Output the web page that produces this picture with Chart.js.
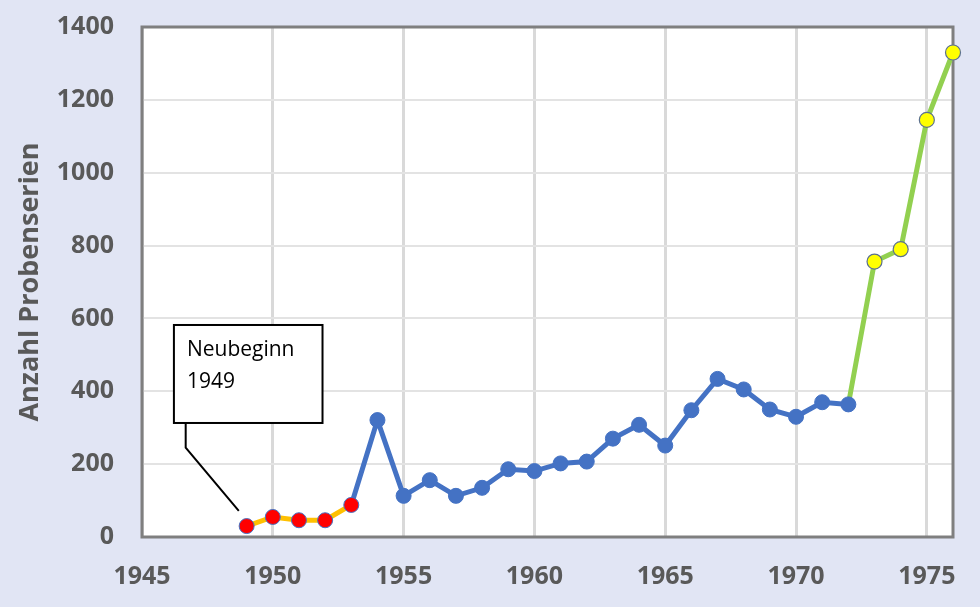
<!DOCTYPE html>
<html lang="de">
<head>
  <meta charset="UTF-8">
  <title>Anzahl Probenserien</title>
  <script src="https://cdn.jsdelivr.net/npm/chart.js"></script>
  <style>
    html, body { margin: 0; padding: 0; background: #e1e5f4; }
    #wrap { width: 980px; height: 607px; }
  </style>
</head>
<body>
  <div id="wrap">
    <canvas id="probenChart" width="980" height="607"></canvas>
  </div>

  <script>
    // Neubeginn 1949-1953
    const earlyYears = [1949, 1950, 1951, 1952, 1953];
    const earlyCounts = [30, 55, 46, 46, 88];

    // 1953-1972
    const midYears = [1953, 1954, 1955, 1956, 1957, 1958, 1959, 1960, 1961, 1962,
                      1963, 1964, 1965, 1966, 1967, 1968, 1969, 1970, 1971, 1972];
    const midCounts = [88, 321, 113, 156, 113, 135, 186, 181, 202, 207,
                       270, 308, 251, 348, 434, 405, 350, 330, 370, 364];

    // 1972-1976
    const lateYears = [1972, 1973, 1974, 1975, 1976];
    const lateCounts = [364, 756, 790, 1145, 1330];

    const yTicks = [0, 200, 400, 600, 800, 1000, 1200, 1400];
    const xTicks = [1945, 1950, 1955, 1960, 1965, 1970, 1975];

    const noteText = ['Neubeginn', '1949'];

    const toPoints = (xs, ys) => xs.map((x, i) => ({ x: x, y: ys[i] }));
    const hideFirst = r => ctx => ctx.dataIndex === 0 ? 0 : r;

    const labelGrey = '#595959';
    const labelFont = { family: 'Open Sans', size: 25, weight: 'bold' };

    // weisser plotbereich + rahmen
    const frame = {
      id: 'frame',
      beforeDraw(chart) {
        const { ctx, chartArea: a } = chart;
        ctx.save();
        ctx.fillStyle = '#ffffff';
        ctx.fillRect(a.left, a.top, a.right - a.left, a.bottom - a.top);
        ctx.restore();
      },
      beforeDatasetsDraw(chart) {
        const { ctx, chartArea: a } = chart;
        ctx.save();
        ctx.strokeStyle = '#7f7f7f';
        ctx.lineWidth = 3;
        ctx.strokeRect(a.left, a.top, a.right - a.left, a.bottom - a.top);
        ctx.restore();
      }
    };

    // textfeld mit hinweislinie
    const note = {
      id: 'note',
      afterDatasetsDraw(chart) {
        const { ctx, scales: { x, y } } = chart;
        const l = x.getPixelForValue(1946.22), r = x.getPixelForValue(1951.9);
        const t = y.getPixelForValue(582), b = y.getPixelForValue(313);
        ctx.save();
        ctx.fillStyle = '#ffffff';
        ctx.fillRect(l, t, r - l, b - t);
        ctx.strokeStyle = '#000000';
        ctx.lineWidth = 2;
        ctx.strokeRect(l, t, r - l, b - t);
        ctx.beginPath();
        ctx.moveTo(x.getPixelForValue(1946.67), b);
        ctx.lineTo(x.getPixelForValue(1946.67), y.getPixelForValue(245));
        ctx.lineTo(x.getPixelForValue(1948.7), y.getPixelForValue(72));
        ctx.stroke();
        ctx.fillStyle = '#000000';
        ctx.font = '21px "Open Sans"';
        ctx.textBaseline = 'alphabetic';
        noteText.forEach((s, i) => ctx.fillText(s, l + 13, t + 31 + i * 32));
        ctx.restore();
      }
    };

    new Chart(document.getElementById('probenChart'), {
      type: 'line',
      data: {
        datasets: [
          {
            data: toPoints(earlyYears, earlyCounts),
            borderColor: '#ffc000',
            borderWidth: 5,
            pointBackgroundColor: '#ff0000',
            pointBorderColor: '#4472c4',
            pointBorderWidth: 1,
            pointRadius: 7.5,
            clip: false
          },
          {
            data: toPoints(midYears, midCounts),
            borderColor: '#4472c4',
            borderWidth: 5,
            pointBackgroundColor: '#4472c4',
            pointBorderColor: '#4472c4',
            pointBorderWidth: 1,
            pointRadius: hideFirst(7.5),
            clip: false
          },
          {
            data: toPoints(lateYears, lateCounts),
            borderColor: '#92d050',
            borderWidth: 5,
            pointBackgroundColor: '#ffff00',
            pointBorderColor: '#5b7090',
            pointBorderWidth: 1.2,
            pointRadius: hideFirst(7.5),
            clip: false
          }
        ]
      },
      options: {
        responsive: false,
        animation: false,
        devicePixelRatio: 1,
        layout: { padding: { top: 27, right: 27, left: 0, bottom: 0 } },
        plugins: {
          legend: { display: false },
          tooltip: { enabled: false }
        },
        scales: {
          x: {
            type: 'linear',
            min: 1945,
            max: 1976,
            afterBuildTicks: s => { s.ticks = xTicks.map(v => ({ value: v })); },
            afterFit: s => { s.height = 70; s.paddingLeft = 0; s.paddingRight = 0; },
            grid: { color: '#d9d9d9', lineWidth: 3, drawTicks: false },
            border: { display: false },
            ticks: {
              padding: 25,
              color: labelGrey,
              font: labelFont,
              callback: v => String(v)
            }
          },
          y: {
            min: 0,
            max: 1400,
            afterBuildTicks: s => { s.ticks = yTicks.map(v => ({ value: v })); },
            afterFit: s => { s.width = 142; s.paddingTop = 0; s.paddingBottom = 0; },
            grid: { color: '#e3e3e3', lineWidth: 2, drawTicks: false },
            border: { display: false },
            title: {
              display: true,
              text: 'Anzahl Probenserien',
              color: labelGrey,
              padding: { top: 14, bottom: 0 },
              font: { family: 'Open Sans', size: 27, weight: 'bold' }
            },
            ticks: {
              padding: 28,
              color: labelGrey,
              font: labelFont,
              callback: v => String(v)
            }
          }
        }
      },
      plugins: [frame, note]
    });
  </script>
</body>
</html>
